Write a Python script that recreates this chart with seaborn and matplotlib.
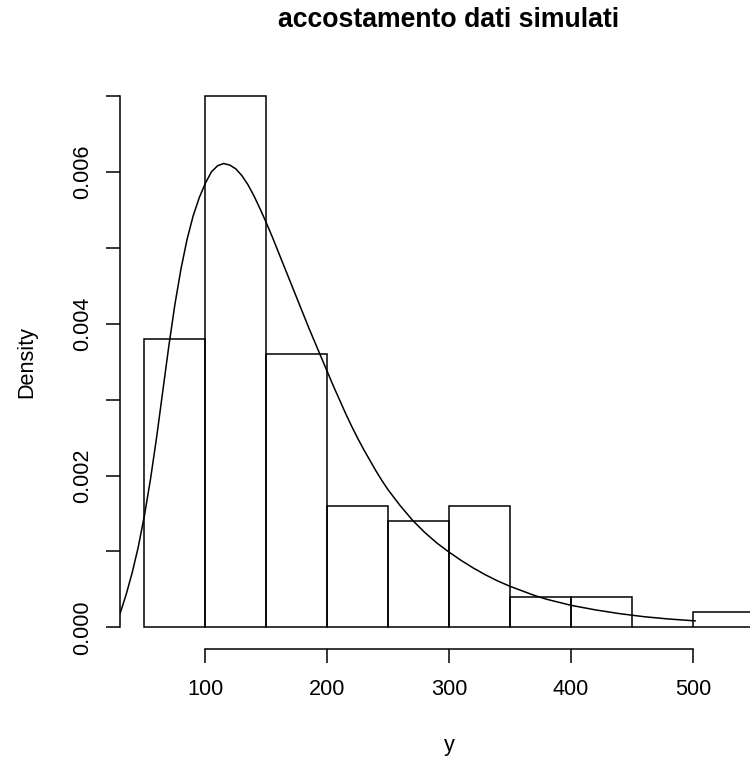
import numpy as np
import pandas as pd
import matplotlib
matplotlib.use('Agg')
import matplotlib.pyplot as plt
import seaborn as sns

# ── Data ────────────────────────────────────────────────────────────────
bin_edges = [50, 100, 150, 200, 250, 300, 350, 400, 450, 500, 550]
bin_density = [0.0038, 0.0070, 0.0036, 0.0016, 0.0014,
               0.0016, 0.0004, 0.0004, 0.0000, 0.0002]

# fitted density curve
curve_x = [30, 35, 40, 45, 50, 55, 60, 65, 70, 75, 80, 85, 90, 95,
           100, 105, 110, 115, 120, 125, 130, 135, 140, 145,
           150, 155, 160, 165, 170, 175, 180, 185, 190, 195,
           200, 205, 210, 215, 220, 225, 230, 235, 240, 245,
           250, 260, 270, 280, 290, 300, 310, 320, 330, 340,
           350, 360, 370, 380, 390, 400, 420, 440, 460, 480, 502]
curve_y = [0.00018, 0.00043, 0.00072, 0.00106, 0.00147, 0.00195, 0.00250,
           0.00310, 0.00370, 0.00425, 0.00472, 0.00511, 0.00542, 0.00566,
           0.00585, 0.00600, 0.00608, 0.00611, 0.00609, 0.00604, 0.00595,
           0.00583, 0.00568, 0.00551,
           0.00533, 0.00514, 0.00494, 0.00474, 0.00454, 0.00434, 0.00414,
           0.00394, 0.00375, 0.00356,
           0.00337, 0.00318, 0.00300, 0.00282, 0.00265, 0.00249, 0.00234,
           0.00220, 0.00206, 0.00193,
           0.00181, 0.00160, 0.00141, 0.00125, 0.00111, 0.00099, 0.00088,
           0.00078, 0.00069, 0.00061,
           0.00054, 0.00048, 0.00042, 0.00037, 0.00033, 0.00029, 0.00023,
           0.00018, 0.00014, 0.00011, 0.000085]

x_ticks = [100, 200, 300, 400, 500]
y_ticks = [0.000, 0.001, 0.002, 0.003, 0.004, 0.005, 0.006, 0.007]
y_tick_labels = ['0.000', '', '0.002', '', '0.004', '', '0.006', '']

title = 'accostamento dati simulati'

# ── Style ────────────────────────────────────────────────────────────────
sns.set_style('ticks')
plt.rcParams['font.family'] = ['Liberation Sans', 'DejaVu Sans']
plt.rcParams['text.color'] = 'black'
plt.rcParams['axes.labelcolor'] = 'black'
plt.rcParams['xtick.color'] = 'black'
plt.rcParams['ytick.color'] = 'black'
base_fs = 15.6

W, H = 750, 761
fig = plt.figure(figsize=(W / 100, H / 100), dpi=100)
# plot region: x 30 at px 120, right edge of image at px 750
ax = fig.add_axes([120 / W, 1 - 648.6 / H, 630 / W, (648.6 - 74.7) / H])

mids = [(a + b) / 2 for a, b in zip(bin_edges[:-1], bin_edges[1:])]
hist_df = pd.DataFrame({'mid': mids, 'dens': bin_density})
sns.histplot(data=hist_df, x='mid', weights='dens', bins=bin_edges,
             stat='count', fill=False, element='bars', color='black',
             edgecolor='black', linewidth=1.1, ax=ax)

curve_df = pd.DataFrame({'x': curve_x, 'y': curve_y})
sns.lineplot(data=curve_df, x='x', y='y', color='black', linewidth=1.1,
             sort=False, ax=ax)

ax.set_xlim(30, 546.8)
ax.set_ylim(-0.00028, 0.00728)

ax.set_xticks(x_ticks)
ax.set_xticklabels([str(t) for t in x_ticks])
ax.set_yticks(y_ticks)
ax.set_yticklabels(y_tick_labels, rotation=90, va='center')

for side in ['top', 'right']:
    ax.spines[side].set_visible(False)
ax.spines['left'].set_bounds(0, 0.007)
ax.spines['bottom'].set_bounds(100, 500)
for side in ['left', 'bottom']:
    ax.spines[side].set_linewidth(1.1)
    ax.spines[side].set_color('black')

ax.tick_params(axis='both', direction='out', length=10, width=1.1,
               color='black', labelsize=base_fs, labelcolor='black')
ax.tick_params(axis='x', pad=12)
ax.tick_params(axis='y', pad=9.5)
ax.set_xlabel('')
ax.set_ylabel('')

# titles / axis labels placed like R's margin lines
fig.text(449 / W, 1 - 27 / H, title, ha='center', va='baseline',
         fontsize=19.2, fontweight='bold')
fig.text(449 / W, 1 - 751.5 / H, 'y', ha='center', va='baseline',
         fontsize=base_fs)
fig.text(32.3 / W, 1 - 361.6 / H, 'Density', ha='center', va='baseline',
         rotation=90, rotation_mode='anchor', fontsize=base_fs)

plt.savefig('out.png', dpi=100)
